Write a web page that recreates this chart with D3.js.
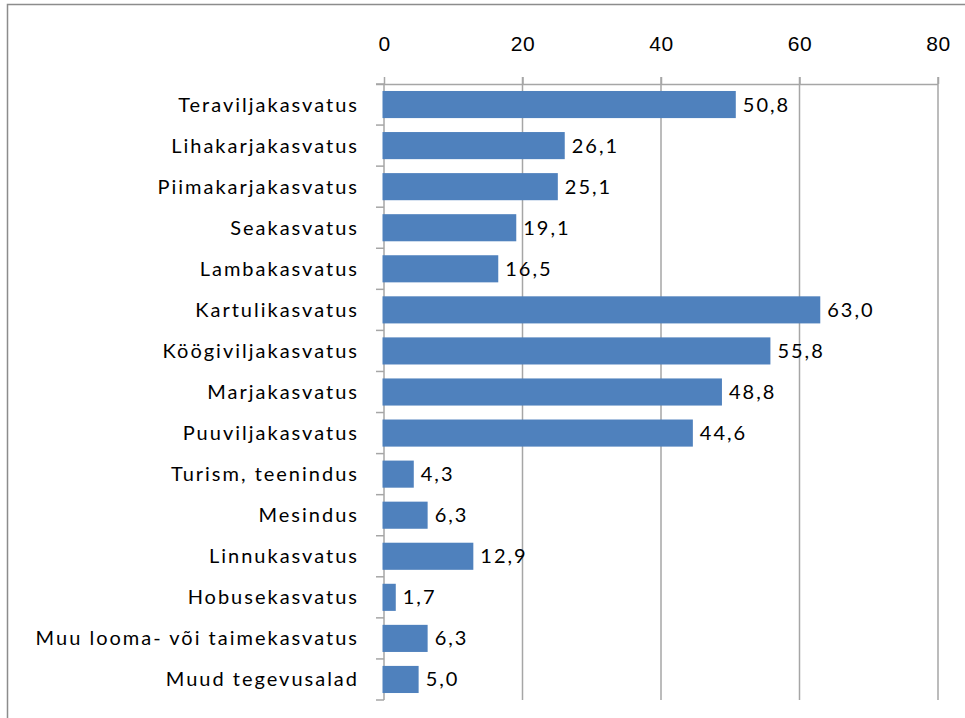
<!DOCTYPE html>
<html>
<head>
<meta charset="utf-8">
<script src="https://cdn.jsdelivr.net/npm/d3@7"></script>
<style>
  body { margin: 0; background: #fff; }
  svg { display: block; font-family: Lato, "Open Sans", sans-serif; }
  .lbl { font-size: 20px; fill: #000; letter-spacing: 2px; }
</style>
</head>
<body>
<svg width="965" height="718"></svg>
<script>
const categories = [
  'Teraviljakasvatus', 'Lihakarjakasvatus', 'Piimakarjakasvatus', 'Seakasvatus',
  'Lambakasvatus', 'Kartulikasvatus', 'Köögiviljakasvatus', 'Marjakasvatus',
  'Puuviljakasvatus', 'Turism, teenindus', 'Mesindus', 'Linnukasvatus',
  'Hobusekasvatus', 'Muu looma- või taimekasvatus', 'Muud tegevusalad'
];
const values = [50.8, 26.1, 25.1, 19.1, 16.5, 63.0, 55.8, 48.8, 44.6, 4.3, 6.3, 12.9, 1.7, 6.3, 5.0];
const ticks = [0, 20, 40, 60, 80];

const svg = d3.select('svg');
const axisColor = '#a6a6a6';

// chart frame (runs off right and bottom edge)
svg.append('rect')
  .attr('x', 7.5).attr('y', 4.5)
  .attr('width', 1000).attr('height', 800)
  .attr('fill', 'none').attr('stroke', '#8c8c8c').attr('stroke-width', 1.5);

const x = d3.scaleLinear().domain([0, 80]).range([384, 938]);
const y = d3.scaleBand().domain(categories).range([84, 700]).paddingInner(0.34).paddingOuter(0.17);

// gridlines
svg.append('g')
  .selectAll('line')
  .data(ticks.slice(1))
  .enter()
  .append('line')
    .attr('x1', d => x(d)).attr('x2', d => x(d))
    .attr('y1', 77).attr('y2', 700)
    .attr('stroke', axisColor).attr('stroke-width', 1.5);

// top axis
const axisTop = d3.axisTop(x).tickValues(ticks).tickSize(7).tickPadding(26).tickFormat(d3.format('d'));
svg.append('g')
    .attr('transform', 'translate(0,84)')
  .call(axisTop)
  .call(g => g.select('.domain').attr('d', `M376,0.5H${x(80)}`).attr('stroke', axisColor).attr('stroke-width', 1.5))
  .call(g => g.selectAll('.tick line').attr('stroke', axisColor).attr('stroke-width', 1.5))
  .call(g => g.selectAll('.tick text').attr('class', 'lbl').style('letter-spacing', '0.5px').style('font-size', '21px').attr('fill', '#000'));

// left axis line with ticks between categories
const boundaries = d3.range(categories.length + 1).map(i => 84 + i * (616 / categories.length));
svg.append('line')
  .attr('x1', x(0)).attr('x2', x(0)).attr('y1', 84).attr('y2', 700)
  .attr('stroke', axisColor).attr('stroke-width', 1.5);
svg.append('g')
  .selectAll('line')
  .data(boundaries)
  .enter()
  .append('line')
    .attr('x1', 376).attr('x2', x(0))
    .attr('y1', d => d).attr('y2', d => d)
    .attr('stroke', axisColor).attr('stroke-width', 1.5);

// category labels
svg.append('g')
  .selectAll('text')
  .data(categories)
  .enter()
  .append('text')
    .attr('class', 'lbl')
    .attr('x', 359)
    .attr('y', d => y(d) + y.bandwidth() / 2)
    .attr('dy', '0.35em')
    .attr('text-anchor', 'end')
    .text(d => d);

// bars
svg.append('g')
  .selectAll('rect')
  .data(values)
  .enter()
  .append('rect')
    .attr('x', x(0) - 1.5)
    .attr('y', (d, i) => y(categories[i]))
    .attr('width', d => x(d) - x(0) + 1.5)
    .attr('height', y.bandwidth())
    .attr('fill', '#4f81bd');

// value labels
const fmt = d => d.toFixed(1).replace('.', ',');
svg.append('g')
  .selectAll('text')
  .data(values)
  .enter()
  .append('text')
    .attr('class', 'lbl')
    .attr('x', d => x(d) + 7)
    .attr('y', (d, i) => y(categories[i]) + y.bandwidth() / 2)
    .attr('dy', '0.35em')
    .text(fmt);
</script>
</body>
</html>
